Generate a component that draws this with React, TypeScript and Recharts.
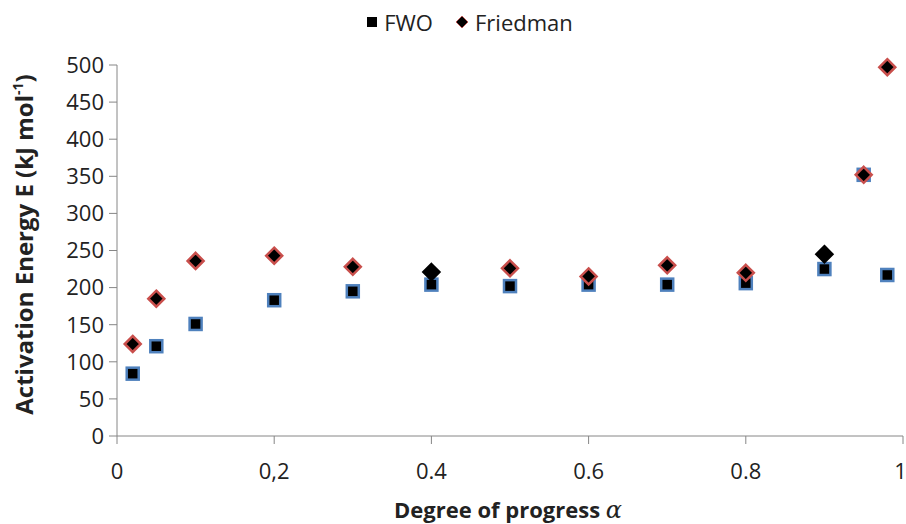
import { ScatterChart, Scatter, XAxis, YAxis, Label, Legend } from 'recharts';

const alphas = [0.02, 0.05, 0.1, 0.2, 0.3, 0.4, 0.5, 0.6, 0.7, 0.8, 0.9, 0.95, 0.98];
const fwoValues = [84, 121, 151, 183, 195, 204, 202, 204, 204, 206, 225, 352, 217];
const friedmanValues = [124, 185, 236, 243, 228, 221, 226, 215, 230, 220, 245, 352, 497];

const xTicks = [0, 0.2, 0.4, 0.6, 0.8, 1];
const xTickLabels = ['0', '0,2', '0.4', '0.6', '0.8', '1'];
const yTicks = [0, 50, 100, 150, 200, 250, 300, 350, 400, 450, 500];

const fwoData = alphas.map((a, i) => ({ alpha: a, E: fwoValues[i] }));
const friedmanData = alphas.map((a, i) => ({ alpha: a, E: friedmanValues[i] }));

// these two diamonds have no red outline in the original
const plainDiamonds = new Set([0.4, 0.9]);

const FONT = '"Open Sans", sans-serif';
const AXIS = '#868686';

const Square = (props: any) => {
    const { cx, cy } = props;
    return <rect x={cx - 6} y={cy - 6} width={12} height={12} fill="#000" stroke="#4f81bd" strokeWidth={2.5} />;
};

const Diamond = (props: any) => {
    const { cx, cy, payload } = props;
    const r = 8;
    const plain = plainDiamonds.has(payload.alpha);
    return (
        <path
            d={`M${cx},${cy - r}L${cx + r},${cy}L${cx},${cy + r}L${cx - r},${cy}Z`}
            fill="#000"
            stroke={plain ? '#000' : '#c94f4c'}
            strokeWidth={2.5}
            strokeLinejoin="miter"
        />
    );
};

const LegendBox = () => (
    <div style={{ display: 'flex', justifyContent: 'center', alignItems: 'center', fontFamily: FONT, fontSize: 22, color: '#222', marginLeft: 36, height: 27 }}>
        <svg width={12} height={12} style={{ marginRight: 6 }}>
            <rect x={1} y={1} width={10} height={10} fill="#000" />
        </svg>
        <span style={{ marginRight: 22 }}>FWO</span>
        <svg width={14} height={14} style={{ marginRight: 6 }}>
            <path d="M7,1L13,7L7,13L1,7Z" fill="#000" stroke="#c94f4c" strokeWidth={0.8} />
        </svg>
        <span>Friedman</span>
    </div>
);

const YTitle = (props: any) => {
    const { viewBox } = props;
    const cy = viewBox.y + viewBox.height / 2 - 6;
    const x = 33;
    return (
        <text
            x={x}
            y={cy}
            transform={`rotate(-90 ${x} ${cy})`}
            textAnchor="middle"
            fontFamily={FONT}
            fontWeight="bold"
            fontSize={24}
            fill="#222"
        >
            Activation Energy E (kJ mol
            <tspan fontSize={14} dy={-10}>-1</tspan>
            <tspan dy={10}>)</tspan>
        </text>
    );
};

const XTitle = (props: any) => {
    const { viewBox } = props;
    const cx = viewBox.x + viewBox.width / 2 - 2;
    return (
        <text x={cx} y={518} textAnchor="middle" fontFamily={FONT} fontWeight="bold" fontSize={22} fill="#222">
            Degree of progress <tspan fontFamily="'DejaVu Serif', serif" fontStyle="italic" fontWeight="normal" fontSize={24}>α</tspan>
        </text>
    );
};

export default function App() {
    return (
        <div style={{ position: 'absolute', left: 0, top: 0, width: 906, height: 524, background: '#fff' }}>
            <ScatterChart width={906} height={524} margin={{ top: 38, right: 3, left: 0, bottom: 0 }}>
                <Legend verticalAlign="top" align="center" content={<LegendBox />} wrapperStyle={{ top: 8 }} />
                <XAxis
                    type="number"
                    dataKey="alpha"
                    domain={[0, 1]}
                    ticks={xTicks}
                    tickFormatter={(v: number) => xTickLabels[xTicks.indexOf(v)]}
                    stroke={AXIS}
                    tickSize={8}
                    tickMargin={19}
                    height={88}
                    tick={{ fill: '#222', fontSize: 22, fontFamily: FONT }}
                >
                    <Label content={<XTitle />} />
                </XAxis>
                <YAxis
                    type="number"
                    dataKey="E"
                    domain={[0, 500]}
                    ticks={yTicks}
                    stroke={AXIS}
                    tickSize={8}
                    tickMargin={5}
                    width={117}
                    tick={{ fill: '#222', fontSize: 22, fontFamily: FONT }}
                >
                    <Label content={<YTitle />} />
                </YAxis>
                <Scatter name="FWO" data={fwoData} shape={<Square />} isAnimationActive={false} />
                <Scatter name="Friedman" data={friedmanData} shape={<Diamond />} isAnimationActive={false} />
            </ScatterChart>
        </div>
    );
}
